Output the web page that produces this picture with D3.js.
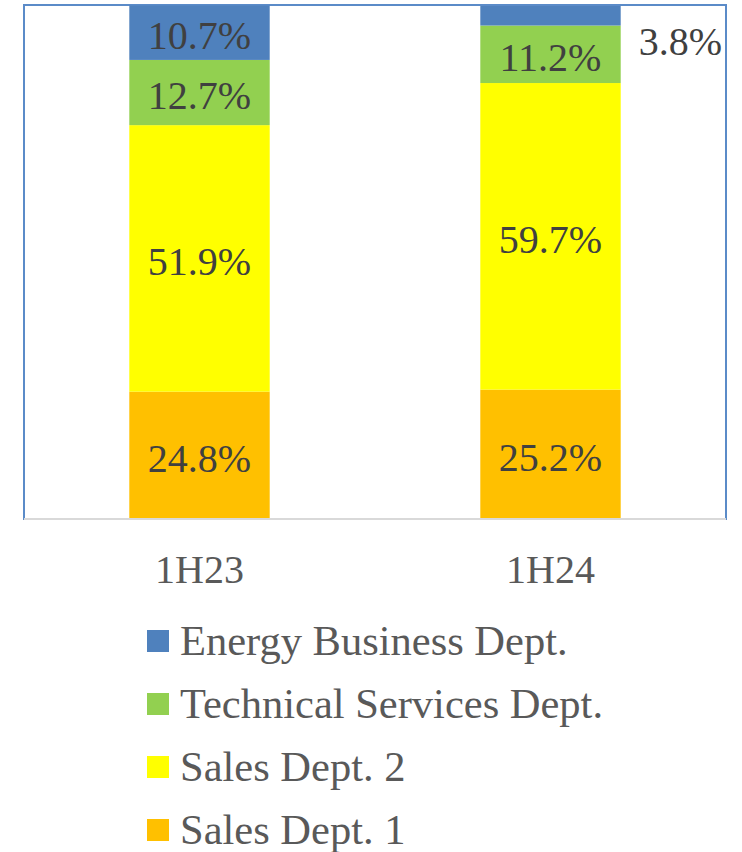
<!DOCTYPE html>
<html><head><meta charset="utf-8">
<script src="https://cdn.jsdelivr.net/npm/d3@7"></script>
<style>body{margin:0;background:#fff}svg{display:block}
text{font-family:"Liberation Serif","Times New Roman",Times,serif}</style>
</head><body>
<script>
const categories = ["1H23", "1H24"];
const seriesNames = ["Sales Dept. 1", "Sales Dept. 2", "Technical Services Dept.", "Energy Business Dept."];
const salesDept1 = [24.8, 25.2];
const salesDept2 = [51.9, 59.7];
const technicalServices = [12.7, 11.2];
const energyBusiness = [10.7, 3.8];
const colors = ["#ffc000", "#ffff00", "#92d050", "#4f81bd"];

const W = 742, H = 852;
const svg = d3.select("body").append("svg").attr("width", W).attr("height", H);
const plot = {left: 24, right: 726, top: 5, bottom: 519};

const x = d3.scaleBand().domain(categories).range([plot.left, plot.right]).paddingInner(0.6).paddingOuter(0.3);
const y = d3.scaleLinear().domain([0, 100]).range([plot.bottom, plot.top + 0.5]).clamp(true);

const rows = categories.map((c, i) => ({cat: c, s0: salesDept1[i], s1: salesDept2[i], s2: technicalServices[i], s3: energyBusiness[i]}));
const stack = d3.stack().keys(["s0", "s1", "s2", "s3"]);
const layers = stack(rows);

// plot border
svg.append("rect").attr("x", plot.left).attr("y", plot.top).attr("width", plot.right - plot.left).attr("height", plot.bottom - plot.top)
  .attr("fill", "none").attr("stroke", "#5b8bc8").attr("stroke-width", 2);

layers.forEach((layer, li) => {
  svg.append("g").selectAll("rect").data(layer).join("rect")
    .attr("x", d => x(d.data.cat))
    .attr("width", x.bandwidth())
    .attr("y", d => y(d[1]))
    .attr("height", d => y(d[0]) - y(d[1]))
    .attr("fill", colors[li]);
});

// x axis line
svg.append("line").attr("x1", plot.left).attr("x2", plot.right).attr("y1", plot.bottom).attr("y2", plot.bottom)
  .attr("stroke", "#d9d9d9").attr("stroke-width", 2);

// labels
layers.forEach((layer, li) => {
  layer.forEach((d, i) => {
    const v = d.data[layer.key];
    let lx = x(d.data.cat) + x.bandwidth() / 2;
    let ly = y((d[0] + d[1]) / 2);
    let anchor = "middle";
    if (li === 3 && i === 1) { lx = x(d.data.cat) + x.bandwidth() + 18; ly = y(d[1]) + 32; anchor = "start"; }
    svg.append("text").attr("x", lx).attr("y", ly).attr("dy", "0.42em")
      .attr("text-anchor", anchor).style("font-size", "40px")
      .attr("fill", "#404040").text(v.toFixed(1) + "%");
  });
});

// category axis labels
svg.append("g").selectAll("text").data(categories).join("text")
  .attr("x", d => x(d) + x.bandwidth() / 2).attr("y", 583)
  .attr("text-anchor", "middle").style("font-size", "40px")
  .attr("fill", "#595959").text(d => d);

// legend
const legendOrder = [3, 2, 1, 0];
const lg = svg.append("g").selectAll("g").data(legendOrder).join("g")
  .attr("transform", (d, i) => `translate(147, ${630 + i * 63})`);
lg.append("rect").attr("width", 22).attr("height", 22).attr("fill", d => colors[d]);
lg.append("text").attr("x", 33).attr("y", 25).style("font-size", "42.5px")
  .attr("fill", "#595959").text(d => seriesNames[d]);
</script>
</body></html>
